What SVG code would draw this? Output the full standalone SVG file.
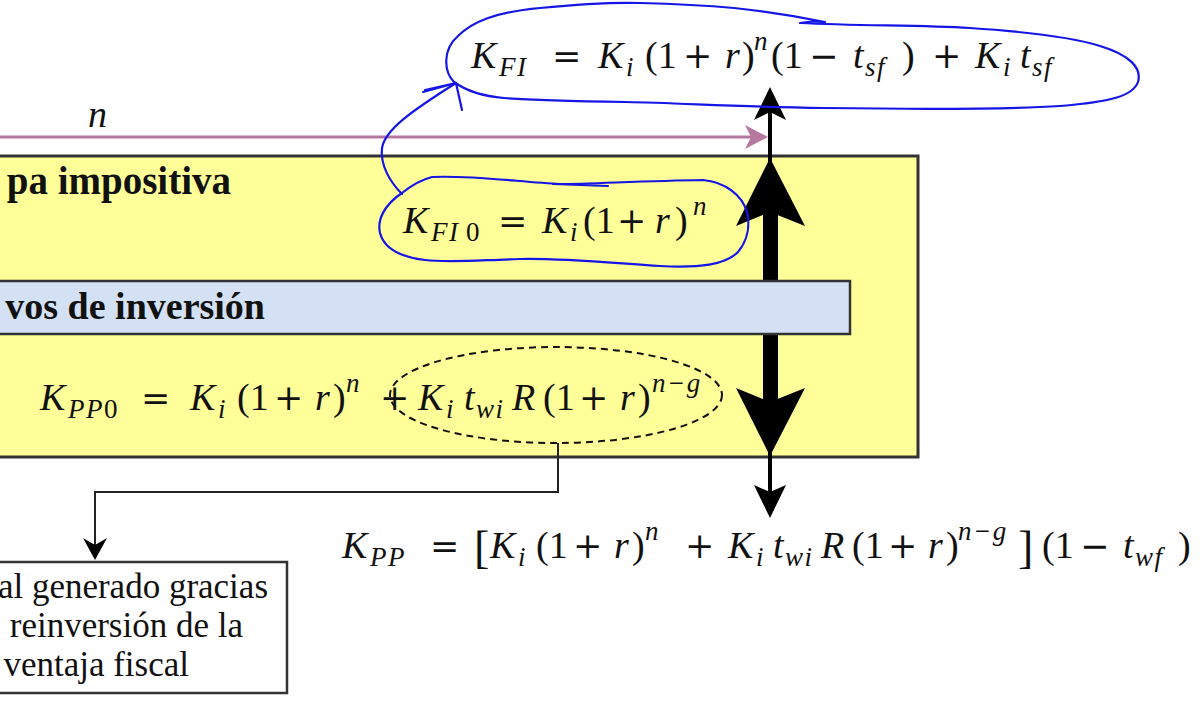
<svg xmlns="http://www.w3.org/2000/svg" width="1200" height="728" viewBox="0 0 1200 728">
<style>
.m{font-family:"Liberation Serif","DejaVu Serif",serif;font-size:38px;fill:#111}
.it{font-style:italic}
.s{font-size:27px;letter-spacing:1.5px}
.op{font-family:"DejaVu Serif","Liberation Serif",serif;font-size:35px}
.t{font-family:"Liberation Serif","DejaVu Serif",serif;font-weight:bold;font-size:39px;fill:#111}
.b{font-family:"Liberation Serif","DejaVu Serif",serif;font-size:35px;fill:#111}
.hand{fill:none;stroke:#1515e6;stroke-width:2.2;stroke-linecap:round;stroke-linejoin:round}
</style>
<rect width="1200" height="728" fill="#ffffff"/>
<g id="etapa-impositiva">
<rect x="-10" y="156" width="928" height="301" fill="#ffff99" stroke="#333" stroke-width="3"/>
<text class="t" x="231" y="194" text-anchor="end">pa impositiva</text>
</g>
<g id="connectors">
<line x1="-5" y1="137" x2="752" y2="137" stroke="#b7789f" stroke-width="3"/>
<path d="M768,137 L745,125 L751,137 L745,149 Z" fill="#b7789f"/>
<line x1="770" y1="108" x2="770" y2="162" stroke="#000" stroke-width="4"/>
<path d="M770,87 L786,120 L770,112 L754,120 Z" fill="#000"/>
<rect x="763" y="205" width="15" height="205" fill="#000"/>
<path d="M770,158 L805,226 L770,212 L736,226 Z" fill="#000"/>
<path d="M770,456 L805,388 L770,402 L736,388 Z" fill="#000"/>
<line x1="770" y1="452" x2="770" y2="495" stroke="#000" stroke-width="4"/>
<path d="M770,518 L786,485 L770,492 L754,485 Z" fill="#000"/>
<path d="M558,443 V492 H95 V545" fill="none" stroke="#222" stroke-width="2"/>
<path d="M95,560 L107,538 L95,545 L83,538 Z" fill="#000"/>
</g>
<g id="activos-inversion">
<rect x="-10" y="281" width="860" height="53" fill="#d4e1f4" stroke="#333" stroke-width="2.5"/>
<text class="t" x="265" y="319" text-anchor="end" style="font-size:38px">vos de inversión</text>
</g>
<g id="n-label">
<text class="m it" x="88" y="127">n</text>
</g>
<g id="kfi">
<text class="m"><tspan class="it" x="471" y="68">K</tspan><tspan class="it s" x="499" y="76">FI</tspan><tspan class="op" x="552" y="68">=</tspan><tspan class="it" x="598" y="68">K</tspan><tspan class="it s" x="626" y="76">i</tspan><tspan x="645" y="68">(1</tspan><tspan class="op" x="683" y="68">+</tspan><tspan class="it" x="725" y="68">r</tspan><tspan x="742" y="68">)</tspan><tspan class="it s" x="754" y="50">n</tspan><tspan x="771" y="68">(1</tspan><tspan class="op" x="809" y="68">−</tspan><tspan class="it" x="853" y="68">t</tspan><tspan class="it s" x="865" y="76">sf</tspan><tspan x="902" y="68">)</tspan><tspan class="op" x="932" y="68">+</tspan><tspan class="it" x="975" y="68">K</tspan><tspan class="it s" x="1003" y="76">i</tspan><tspan class="it" x="1020" y="68">t</tspan><tspan class="it s" x="1032" y="76">sf</tspan></text>
</g>
<g id="kfi0">
<text class="m"><tspan class="it" x="403" y="233">K</tspan><tspan class="it s" x="431" y="241">FI</tspan><tspan class="s" x="466" y="241">0</tspan><tspan class="op" x="498" y="233">=</tspan><tspan class="it" x="542" y="233">K</tspan><tspan class="it s" x="570" y="241">i</tspan><tspan x="583" y="233">(1</tspan><tspan class="op" x="617" y="233">+</tspan><tspan class="it" x="655" y="233">r</tspan><tspan x="675" y="233">)</tspan><tspan class="it s" x="693" y="215">n</tspan></text>
</g>
<g id="kpp0">
<text class="m"><tspan class="it" x="40" y="410">K</tspan><tspan class="it s" x="68" y="418">PP</tspan><tspan class="s" x="104" y="418">0</tspan><tspan class="op" x="141" y="410">=</tspan><tspan class="it" x="190" y="410">K</tspan><tspan class="it s" x="218" y="418">i</tspan><tspan x="237" y="410">(1</tspan><tspan class="op" x="274" y="410">+</tspan><tspan class="it" x="315" y="410">r</tspan><tspan x="333" y="410">)</tspan><tspan class="it s" x="346" y="392">n</tspan><tspan class="op" x="380" y="410">+</tspan><tspan class="it" x="418" y="410">K</tspan><tspan class="it s" x="446" y="418">i</tspan><tspan class="it" x="464" y="410">t</tspan><tspan class="it s" x="476" y="418">wi</tspan><tspan class="it" x="512" y="410">R</tspan><tspan x="543" y="410">(1</tspan><tspan class="op" x="579" y="410">+</tspan><tspan class="it" x="620" y="410">r</tspan><tspan x="638" y="410">)</tspan><tspan class="it s" x="652" y="392">n−g</tspan></text>
<ellipse cx="556" cy="395" rx="166" ry="48" fill="none" stroke="#111" stroke-width="2" stroke-dasharray="7 5"/>
</g>
<g id="kpp">
<text class="m"><tspan class="it" x="342" y="558">K</tspan><tspan class="it s" x="370" y="566">PP</tspan><tspan class="op" x="430" y="558">=</tspan><tspan style="font-size:46px" x="474" y="563">[</tspan><tspan class="it" x="490" y="558">K</tspan><tspan class="it s" x="518" y="566">i</tspan><tspan x="536" y="558">(1</tspan><tspan class="op" x="573" y="558">+</tspan><tspan class="it" x="614" y="558">r</tspan><tspan x="632" y="558">)</tspan><tspan class="it s" x="645" y="540">n</tspan><tspan class="op" x="685" y="558">+</tspan><tspan class="it" x="728" y="558">K</tspan><tspan class="it s" x="756" y="566">i</tspan><tspan class="it" x="773" y="558">t</tspan><tspan class="it s" x="785" y="566">wi</tspan><tspan class="it" x="821" y="558">R</tspan><tspan x="852" y="558">(1</tspan><tspan class="op" x="888" y="558">+</tspan><tspan class="it" x="928" y="558">r</tspan><tspan x="946" y="558">)</tspan><tspan class="it s" x="958" y="540">n−g</tspan><tspan style="font-size:46px" x="1018" y="563">]</tspan><tspan x="1042" y="558">(1</tspan><tspan class="op" x="1080" y="558">−</tspan><tspan class="it" x="1123" y="558">t</tspan><tspan class="it s" x="1135" y="566">wf</tspan><tspan x="1178" y="558">)</tspan></text>
</g>
<g id="capital-generado">
<rect x="-10" y="562" width="297" height="131" fill="#ffffff" stroke="#333" stroke-width="2.5"/>
<text class="b" x="268" y="598" text-anchor="end">al generado gracias</text>
<text class="b" x="243" y="637" text-anchor="end">reinversión de la</text>
<text class="b" x="189" y="676" text-anchor="end">ventaja fiscal</text>
</g>
<g id="annotations">
<path class="hand" d="M454,82 C444,72 442,50 458,36 C472,22 495,12 540,8 C580,4 610,2 640,3 C680,4 712,6 734,8 C770,12 805,18 825,22 C815,21 805,22 800,23 C860,26 920,25 970,28 C1030,32 1075,38 1100,46 C1130,55 1142,68 1138,82 C1133,96 1110,102 1060,106 C1000,110 900,109 823,108 C740,107 680,103 626,102 C570,101 530,100 504,98 C480,96 465,90 454,82 Z"/>
<path class="hand" d="M402,194 C390,182 380,165 382,148 C385,130 410,112 456,83"/>
<path class="hand" d="M423,92 L456,83 L462,110 M425,90 L456,83"/>
<path class="hand" d="M402,193 C412,185 420,180 432,177 C470,175 520,182 560,184 C590,184 640,181 703,180 C725,182 742,195 747,212 C750,225 748,240 738,252 C725,265 700,268 660,266 C600,262 560,258 520,259 C480,260 450,263 425,260 C400,257 384,248 380,233 C377,220 384,205 402,193 Z"/>
<path class="hand" d="M553,184 L608,186"/>
</g>
</svg>
